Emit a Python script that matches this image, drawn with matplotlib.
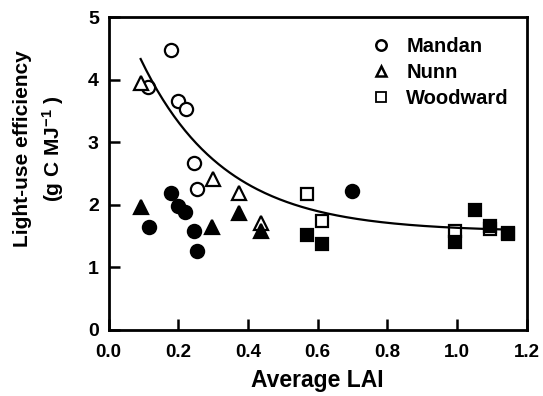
import numpy as np
import matplotlib
matplotlib.use("Agg")
import matplotlib.pyplot as plt
from matplotlib.lines import Line2D

plt.rcParams['font.family'] = ['Liberation Sans', 'DejaVu Sans']
plt.rcParams['font.weight'] = 'bold'
plt.rcParams['mathtext.fontset'] = 'custom'
plt.rcParams['mathtext.rm'] = 'Liberation Sans:bold'
plt.rcParams['mathtext.bf'] = 'Liberation Sans:bold'
plt.rcParams['mathtext.default'] = 'rm'

# Mandan (circles)
mandan_open_x = [0.178, 0.112, 0.198, 0.221, 0.244, 0.253]
mandan_open_y = [4.47, 3.88, 3.66, 3.53, 2.67, 2.25]
mandan_fill_x = [0.115, 0.178, 0.198, 0.218, 0.244, 0.253, 0.698]
mandan_fill_y = [1.64, 2.19, 1.98, 1.88, 1.58, 1.26, 2.22]
# Nunn (triangles)
nunn_open_x = [0.092, 0.299, 0.373, 0.436]
nunn_open_y = [3.95, 2.41, 2.19, 1.71]
nunn_fill_x = [0.092, 0.296, 0.373, 0.436]
nunn_fill_y = [1.96, 1.65, 1.87, 1.58]
# Woodward (squares)
wood_open_x = [0.569, 0.612, 0.994, 1.094, 1.146]
wood_open_y = [2.17, 1.74, 1.58, 1.61, 1.53]
wood_fill_x = [0.569, 0.612, 0.994, 1.051, 1.094, 1.146]
wood_fill_y = [1.52, 1.37, 1.41, 1.92, 1.66, 1.55]

# fitted curve y = a + b*exp(-c*x)
fit_a, fit_b, fit_c = 1.57, 4.06, 4.2
fit_xmin, fit_xmax = 0.092, 1.15

xticks = [0.0, 0.2, 0.4, 0.6, 0.8, 1.0, 1.2]
yticks = [0, 1, 2, 3, 4, 5]
site_names = ['Mandan', 'Nunn', 'Woodward']

fig = plt.figure(figsize=(5.43, 3.96), dpi=100)
ax = fig.add_axes([0.200, 0.167, 0.770, 0.790])

ms = 9.5
mew = 1.6
ax.plot(mandan_open_x, mandan_open_y, 'o', ms=ms, mfc='white', mec='black', mew=mew, ls='none', zorder=3)
ax.plot(nunn_open_x, nunn_open_y, '^', ms=ms, mfc='white', mec='black', mew=mew, ls='none', zorder=3)
ax.plot(wood_open_x, wood_open_y, 's', ms=ms - 1, mfc='white', mec='black', mew=mew, ls='none', zorder=3)
ax.plot(mandan_fill_x, mandan_fill_y, 'o', ms=ms, mfc='black', mec='black', mew=mew, ls='none', zorder=4)
ax.plot(nunn_fill_x, nunn_fill_y, '^', ms=ms, mfc='black', mec='black', mew=mew, ls='none', zorder=4)
ax.plot(wood_fill_x, wood_fill_y, 's', ms=ms - 1, mfc='black', mec='black', mew=mew, ls='none', zorder=4)

xs = np.linspace(fit_xmin, fit_xmax, 200)
ax.plot(xs, fit_a + fit_b * np.exp(-fit_c * xs), color='black', lw=1.6, zorder=5)

ax.set_xlim(0, 1.2)
ax.set_ylim(0, 5)
ax.set_xticks(xticks)
ax.set_xticklabels([f"{t:.1f}" for t in xticks])
ax.set_yticks(yticks)
ax.set_yticklabels([str(t) for t in yticks])
ax.tick_params(direction='in', length=8, width=1.8, labelsize=13.5)
ax.tick_params(axis='x', pad=10)
ax.tick_params(axis='y', pad=7, labelsize=14)
for s in ax.spines.values():
    s.set_linewidth(2)

ax.set_xlabel('Average LAI', fontsize=16.5, fontweight='bold', labelpad=6)
ax.set_ylabel('Light-use efficiency\n(g C MJ$^{-1}$ )', fontsize=15, fontweight='bold', linespacing=1.45)
ax.yaxis.label.set_va('center')
ax.yaxis.set_label_coords(-0.165, 0.58)

handles = [
    Line2D([], [], marker='o', ls='none', ms=7.5, mfc='white', mec='black', mew=1.8),
    Line2D([], [], marker='^', ls='none', ms=7.5, mfc='white', mec='black', mew=1.8),
    Line2D([], [], marker='s', ls='none', ms=7, mfc='white', mec='black', mew=1.3),
]
ax.legend(handles, site_names, loc='upper right', bbox_to_anchor=(0.991, 0.98),
          frameon=False, handletextpad=0.65, labelspacing=0.35, borderaxespad=0.3,
          handlelength=1.2, prop={'weight': 'bold', 'size': 14.5})

fig.savefig('out.png', dpi=100)
